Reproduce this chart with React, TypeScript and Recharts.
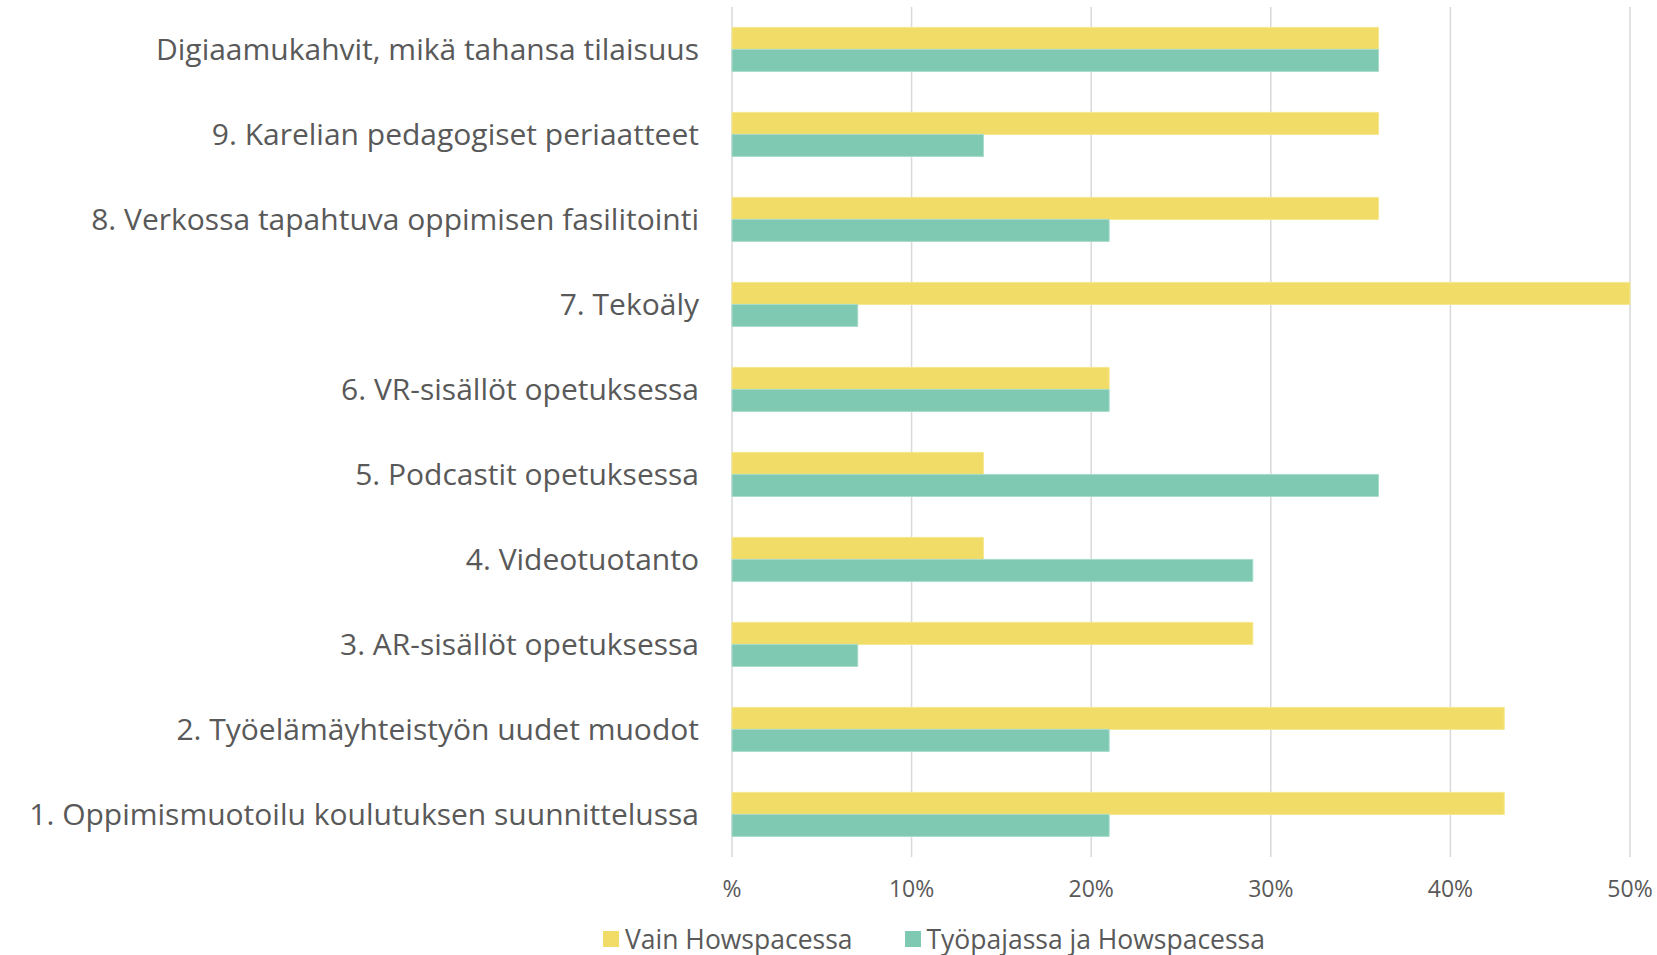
import { Bar, BarChart, CartesianGrid, Legend, XAxis, YAxis } from "recharts"

const categories = [
  "Digiaamukahvit, mikä tahansa tilaisuus",
  "9. Karelian pedagogiset periaatteet",
  "8. Verkossa tapahtuva oppimisen fasilitointi",
  "7. Tekoäly",
  "6. VR-sisällöt opetuksessa",
  "5. Podcastit opetuksessa",
  "4. Videotuotanto",
  "3. AR-sisällöt opetuksessa",
  "2. Työelämäyhteistyön uudet muodot",
  "1. Oppimismuotoilu koulutuksen suunnittelussa",
]

const vainHowspace = [36, 36, 36, 50, 21, 14, 14, 29, 43, 43]
const tyopajaHowspace = [36, 14, 21, 7, 21, 36, 29, 7, 21, 21]

const seriesNames = ["Vain Howspacessa", "Työpajassa ja Howspacessa"]
const seriesColors = ["#f0dc66", "#7fc8b2"]

const xTicks = [0, 10, 20, 30, 40, 50]

const data = categories.map((name, i) => ({
  name,
  vain: vainHowspace[i],
  tyopaja: tyopajaHowspace[i],
}))

const FONT = "'Open Sans', sans-serif"
const TEXT = "#595959"

function LegendContent() {
  return (
    <div style={{ display: "flex", alignItems: "center", height: 48, paddingTop: 16, boxSizing: "border-box", fontFamily: FONT, fontSize: 26.5, color: TEXT }}>
      {seriesNames.map((name, i) => (
        <div key={name} style={{ display: "flex", alignItems: "center", marginRight: 52 }}>
          <span style={{ width: 16, height: 16, background: seriesColors[i], display: "inline-block", marginRight: 6 }} />
          <span>{name}</span>
        </div>
      ))}
    </div>
  )
}

export default function App() {
  return (
    <div style={{ position: "absolute", left: 0, top: 0, background: "#fff" }}>
      <BarChart
        width={1657}
        height={955}
        data={data}
        layout="vertical"
        margin={{ top: 7, right: 27, bottom: 0, left: 0 }}
        barCategoryGap="24%"
        barGap={0}
      >
        <CartesianGrid horizontal={false} stroke="#d9d9d9" strokeWidth={1.5} />
        <XAxis
          type="number"
          domain={[0, 50]}
          ticks={xTicks}
          axisLine={false}
          tickLine={false}
          height={50}
          tickMargin={18}
          tickFormatter={(v: number) => (v === 0 ? "%" : `${v}%`)}
          tick={{ fill: TEXT, fontSize: 23, fontFamily: FONT }}
        />
        <YAxis
          type="category"
          dataKey="name"
          width={732}
          axisLine={false}
          tickLine={false}
          tickSize={0}
          tickMargin={33}
          interval={0}
          tick={{ fill: TEXT, fontSize: 30, fontFamily: FONT }}
        />
        <Legend
          verticalAlign="bottom"
          height={48}
          content={<LegendContent />}
          wrapperStyle={{ left: 603, bottom: 0, height: 48 }}
        />
        <Bar dataKey="vain" name={seriesNames[0]} fill={seriesColors[0]} stroke="#f5e88f" strokeWidth={1} isAnimationActive={false} />
        <Bar dataKey="tyopaja" name={seriesNames[1]} fill={seriesColors[1]} stroke="#a8dccb" strokeWidth={1} isAnimationActive={false} />
      </BarChart>
    </div>
  )
}
